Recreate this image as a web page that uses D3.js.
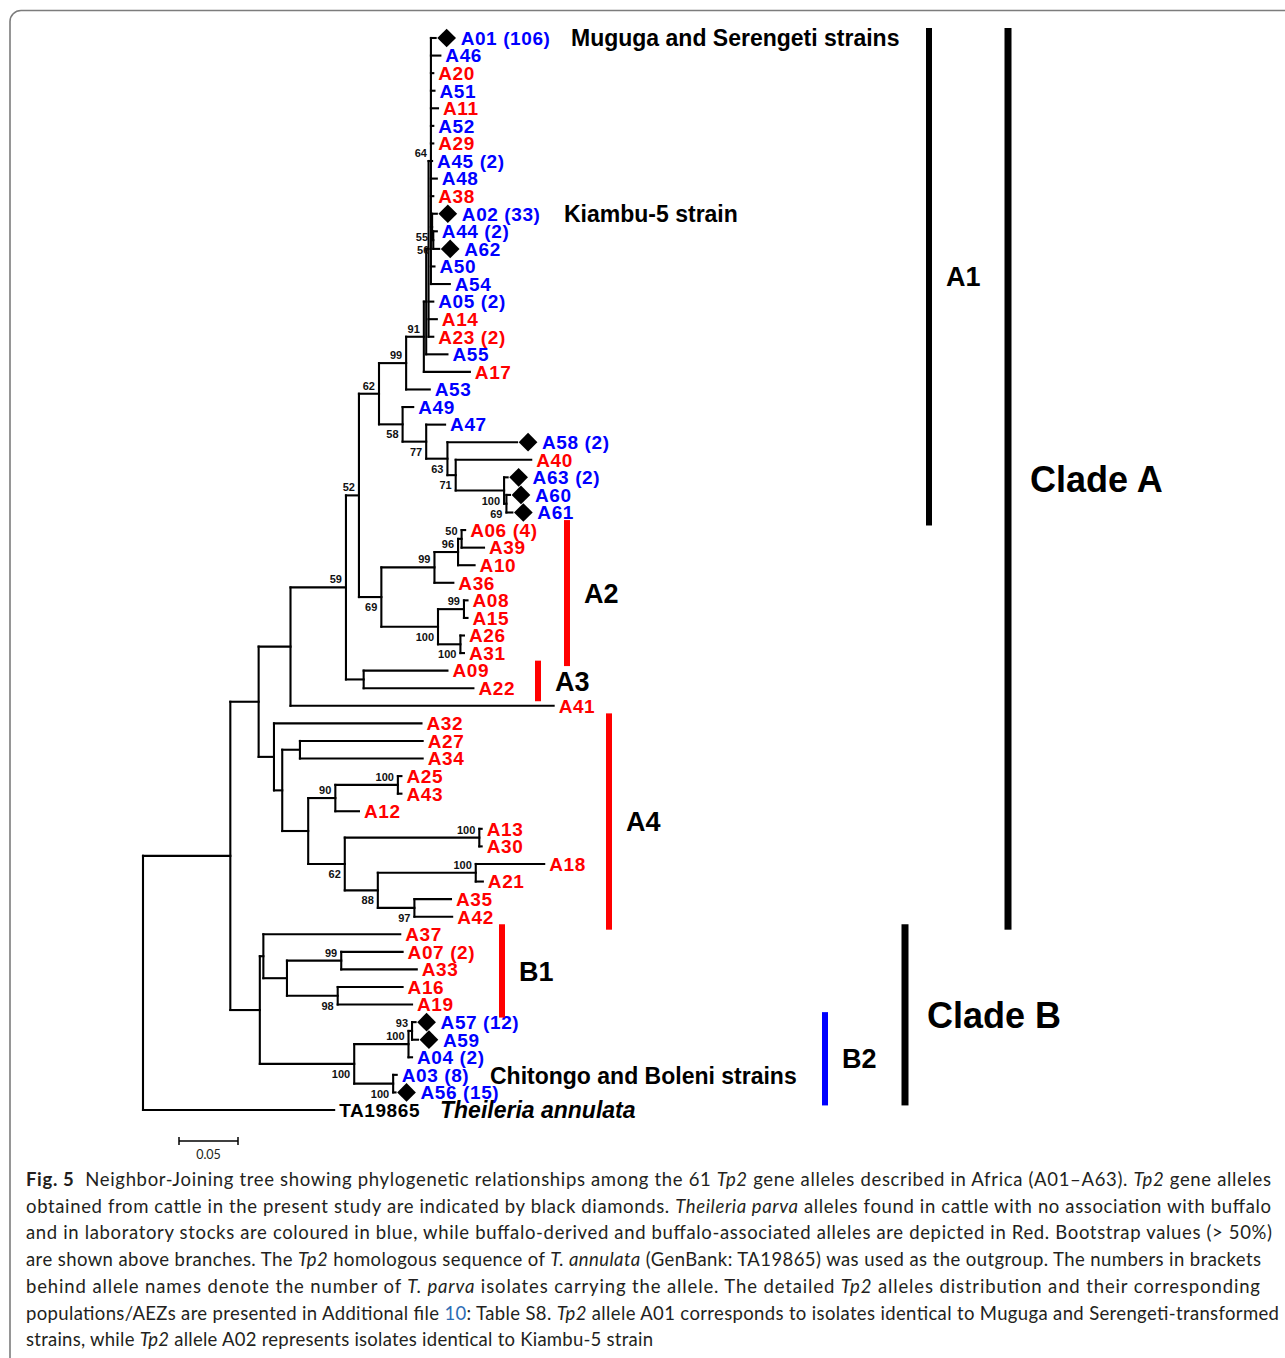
<!DOCTYPE html>
<html>
<head>
<meta charset="utf-8">
<script src="https://cdn.jsdelivr.net/npm/d3@7"></script>
<style>
body { margin: 0; background: #fff; }
svg { display: block; }
</style>
</head>
<body>
<script>
// NJ tree of Tp2 alleles, branch lengths (scale bar = 0.05)
var newick =
  "((((((((((((A01:0.004,A46:0.008,A20:0.002,A51:0.003,A11:0.006,A52:0.002,A29:0.002,A45:0.001,A48:0.005,A38:0.002," +
  "(A02:0.004,(A44:0.003,A62:0.005)56:0.001)55:0.001,A50:0.003,A54:0.016)64:0.002,A05:0.004,A14:0.007,A23:0.004):0.002," +
  "A55:0.018):0.002,A17:0.039)91:0.015,A53:0.020)99:0.023," +
  "(A49:0.009,(A47:0.016,(A58:0.059,(A40:0.064,(A63:0.003,(A60:0.003,A61:0.005)69:0.002)100:0.041)71:0.007)63:0.018)77:0.020)58:0.020)62:0.017," +
  "((((A06:0.003,A39:0.019)50:0.003,A10:0.014)96:0.020,A36:0.016)99:0.045,((A08:0.003,A15:0.003)99:0.022,(A26:0.003,A31:0.003)100:0.019)100:0.048)69:0.019)52:0.011," +
  "(A09:0.071,A22:0.093):0.015)59:0.047,A41:0.223):0.027," +
  "(A32:0.125,((A27:0.104,A34:0.104):0.015,(((A25:0.003,A43:0.003)100:0.053,A12:0.020)90:0.023," +
  "((A13:0.002,A30:0.002)100:0.114,((A18:0.058,A21:0.006)100:0.083,(A35:0.031,A42:0.032)97:0.031)88:0.028)62:0.031):0.022):0.007):0.013):0.024," +
  "((A37:0.116,((A07:0.052,A33:0.064)99:0.046,(A16:0.055,A19:0.063)98:0.043):0.020):0.003," +
  "(((A57:0.003,A59:0.005)93:0.003,A04:0.003)100:0.046,(A03:0.003,A56:0.002)100:0.033)100:0.080):0.025):0.074,TA19865:0.162);";

// alleles from cattle / lab stocks (blue), the rest are buffalo associated (red)
var blueAlleles = ["A01","A46","A51","A52","A45","A48","A02","A44","A62","A50","A54","A05","A55","A53",
  "A49","A47","A58","A63","A60","A61","A57","A59","A04","A03","A56"];
// alleles found in this study (black diamonds)
var diamondAlleles = ["A01","A02","A62","A58","A63","A60","A61","A57","A59","A56"];
// number of isolates in brackets
var countAlleles = ["A01","A45","A02","A44","A05","A23","A58","A63","A06","A07","A57","A04","A03","A56"];
var countValues  = [106, 2, 33, 2, 2, 2, 2, 2, 4, 2, 12, 2, 8, 15];

// clade bars: name, first and last allele covered, colour
var cladeNames  = ["A1","Clade A","A2","A3","A4","B1","B2","Clade B"];
var cladeFirst  = ["A01","A01","A06","A09","A32","A37","A57","A37"];
var cladeLast   = ["A61","A42","A31","A22","A42","A19","A56","A56"];
var cladeColors = ["#000","#000","#ff0000","#ff0000","#ff0000","#ff0000","#0000ff","#000"];

var caption = [
  [["Fig. 5","b"],["  Neighbor-Joining tree showing phylogenetic relationships among the 61 ",""],["Tp2","i"],[" gene alleles described in Africa (A01–A63). ",""],["Tp2","i"],[" gene alleles",""]],
  [["obtained from cattle in the present study are indicated by black diamonds. ",""],["Theileria parva","i"],[" alleles found in cattle with no association with buffalo",""]],
  [["and in laboratory stocks are coloured in blue, while buffalo-derived and buffalo-associated alleles are depicted in Red. Bootstrap values (> 50%)",""]],
  [["are shown above branches. The ",""],["Tp2","i"],[" homologous sequence of ",""],["T. annulata","i"],[" (GenBank: TA19865) was used as the outgroup. The numbers in brackets",""]],
  [["behind allele names denote the number of ",""],["T. parva","i"],[" isolates carrying the allele. The detailed ",""],["Tp2","i"],[" alleles distribution and their corresponding",""]],
  [["populations/AEZs are presented in Additional file ",""],["10","l"],[": Table S8. ",""],["Tp2","i"],[" allele A01 corresponds to isolates identical to Muguga and Serengeti-transformed",""]],
  [["strains, while ",""],["Tp2","i"],[" allele A02 represents isolates identical to Kiambu-5 strain",""]]
];
var captionWidths = [1245, 1245, 1246, 1235, 1234, 1253, 627];

// simple newick reader
function parseNewick(s) {
  var ancestors = [], tree = {}, tokens = s.split(/\s*(;|\(|\)|,|:)\s*/), subtree;
  for (var i = 0; i < tokens.length; i++) {
    var token = tokens[i];
    switch (token) {
      case "(": subtree = {}; tree.children = [subtree]; ancestors.push(tree); tree = subtree; break;
      case ",": subtree = {}; ancestors[ancestors.length - 1].children.push(subtree); tree = subtree; break;
      case ")": tree = ancestors.pop(); break;
      case ":": break;
      default:
        var prev = tokens[i - 1];
        if (prev == ")" || prev == "(" || prev == ",") tree.name = token;
        else if (prev == ":") tree.length = parseFloat(token);
    }
  }
  return tree;
}

var svg = d3.select("body").append("svg").attr("width", 1285).attr("height", 1358);

// frame of the figure
svg.append("rect").attr("x", 10).attr("y", 10.5).attr("width", 1320).attr("height", 1420)
  .attr("rx", 11).attr("fill", "none").attr("stroke", "#7c7c7c").attr("stroke-width", 1.6);

var root = d3.hierarchy(parseNewick(newick));
root.eachBefore(function(d) { d.len = (d.parent ? d.parent.len : 0) + (d.data.length || 0); });

var x = d3.scaleLinear().domain([0, 0.05]).range([143, 202]);
var y = d3.scalePoint().domain(root.leaves().map(function(d) { return d.data.name; })).range([38, 1110]);

root.eachAfter(function(d) {
  d.px = x(d.len);
  if (d.children) d.py = (d.children[0].py + d.children[d.children.length - 1].py) / 2;
  else d.py = y(d.data.name);
});

var g = svg.append("g").attr("stroke", "#000").attr("stroke-width", 2.1).attr("stroke-linecap", "square");
root.descendants().forEach(function(d) {
  if (d.parent) {
    g.append("line").attr("x1", d.parent.px).attr("x2", d.px).attr("y1", d.py).attr("y2", d.py);
  }
  if (d.children) {
    g.append("line").attr("x1", d.px).attr("x2", d.px)
      .attr("y1", d.children[0].py).attr("y2", d.children[d.children.length - 1].py);
  }
});

// bootstrap values
root.descendants().filter(function(d) { return d.children && d.data.name; }).forEach(function(d) {
  var first = d.parent.children[0] === d;
  svg.append("text").attr("x", d.px - 4).attr("y", first ? d.py - 4 : d.py + 14)
    .attr("text-anchor", "end").attr("font-family", "Liberation Sans, Arial, sans-serif")
    .attr("font-weight", "bold").attr("font-size", 11).attr("fill", "#111").text(d.data.name);
});

// leaves
root.leaves().forEach(function(d) {
  var name = d.data.name;
  var hasDiamond = diamondAlleles.indexOf(name) >= 0;
  if (hasDiamond) {
    svg.append("path").attr("d", d3.symbol(d3.symbolSquare, 175)())
      .attr("transform", "translate(" + (d.px + 11) + "," + d.py + ") rotate(45)")
      .attr("fill", "#000");
  }
  var ci = countAlleles.indexOf(name);
  var label = name + (ci >= 0 ? " (" + countValues[ci] + ")" : "");
  var col = name == "TA19865" ? "#000" : (blueAlleles.indexOf(name) >= 0 ? "#0000ff" : "#ff0000");
  svg.append("text").attr("x", d.px + (hasDiamond ? 25 : 5)).attr("y", d.py).attr("dy", "0.36em")
    .attr("font-family", "Liberation Sans, Arial, sans-serif").attr("font-weight", "bold")
    .attr("font-size", 19).attr("letter-spacing", 0.6).attr("fill", col).text(label);
});

// clade bars
var barX = { "A1": 929, "Clade A": 1008, "A2": 567, "A3": 538, "A4": 609, "B1": 502, "B2": 825, "Clade B": 905 };
cladeNames.forEach(function(c, i) {
  var y0 = y(cladeFirst[i]) - 10, y1 = y(cladeLast[i]) + 13;
  var big = c.indexOf("Clade") == 0;
  svg.append("rect").attr("x", barX[c] - (big ? 3.5 : 3)).attr("y", y0)
    .attr("width", big ? 7 : 6).attr("height", y1 - y0).attr("fill", cladeColors[i]);
  svg.append("text").attr("x", barX[c] + (big ? 22 : 17)).attr("y", (y0 + y1) / 2).attr("dy", "0.36em")
    .attr("font-family", "Liberation Sans, Arial, sans-serif").attr("font-weight", "bold")
    .attr("font-size", big ? 36 : 27).attr("fill", "#000").text(c);
});

// strain notes
function note(t, px, py, italic) {
  svg.append("text").attr("x", px).attr("y", py).attr("dy", "0.36em")
    .attr("font-family", "Liberation Sans, Arial, sans-serif").attr("font-weight", "bold")
    .attr("font-style", italic ? "italic" : "normal").attr("font-size", 23).attr("fill", "#000").text(t);
}
note("Muguga and Serengeti strains", 571, y("A01"));
note("Kiambu-5 strain", 564, y("A02"));
note("Chitongo and Boleni strains", 490, y("A03") + 1);
note("Theileria annulata", 440, y("TA19865"), true);

// scale bar
var sb = svg.append("g").attr("stroke", "#000").attr("stroke-width", 1.5);
var sx0 = 179, sx1 = 179 + x(0.05) - x(0);
sb.append("line").attr("x1", sx0).attr("x2", sx1).attr("y1", 1141).attr("y2", 1141);
sb.append("line").attr("x1", sx0).attr("x2", sx0).attr("y1", 1137).attr("y2", 1145);
sb.append("line").attr("x1", sx1).attr("x2", sx1).attr("y1", 1137).attr("y2", 1145);
svg.append("text").attr("x", (sx0 + sx1) / 2).attr("y", 1159).attr("text-anchor", "middle")
  .attr("font-family", "Lato, sans-serif").attr("font-size", 12.5).attr("fill", "#231f20").text("0.05");

// caption
caption.forEach(function(line, i) {
  var t = svg.append("text").attr("x", 26).attr("y", 1186 + i * 26.7)
    .attr("font-family", "Lato, sans-serif").attr("font-size", 18.5).attr("fill", "#231f20")
    .style("white-space", "pre")
    .attr("textLength", captionWidths[i]).attr("lengthAdjust", "spacing");
  line.forEach(function(seg) {
    var s = t.append("tspan").text(seg[0]);
    if (seg[1] == "b") s.attr("font-weight", "bold");
    if (seg[1] == "i") s.attr("font-style", "italic");
    if (seg[1] == "l") s.attr("fill", "#2d6db5");
  });
});
</script>
</body>
</html>
